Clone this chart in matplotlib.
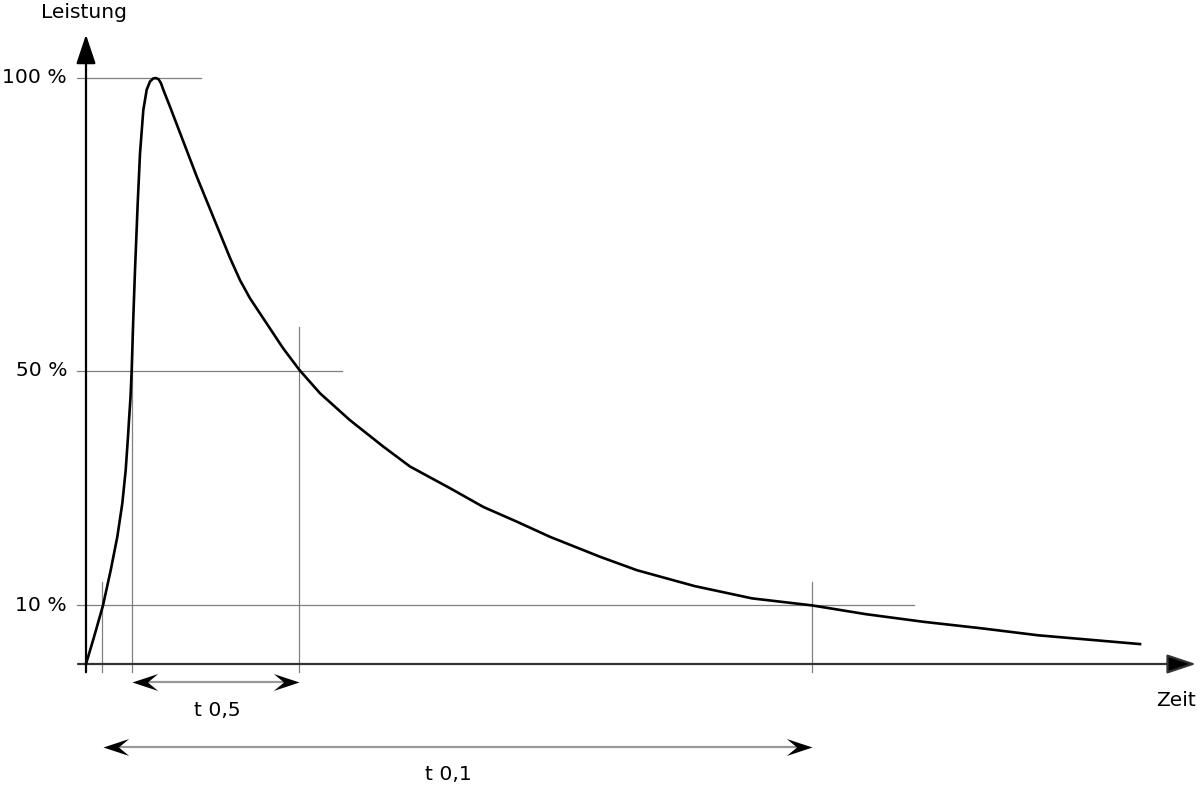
import numpy as np
import matplotlib
matplotlib.use("Agg")
import matplotlib.pyplot as plt
from matplotlib.path import Path

# Power curve (time in arbitrary units, power in %)
t = [0, 8, 17, 24.7, 31.3, 36.3, 39.7, 42, 43, 44.5, 45.7, 47.3, 49, 51.7, 54,
     57.3, 60.7, 64, 67, 69.7, 72.5, 75, 77.3, 84, 110.7, 144, 154, 164, 180.7,
     197, 213.3, 234, 264, 297.3, 324, 364, 397.3, 430.7, 464, 514, 551, 608.5,
     666, 726, 780, 837.5, 895, 952, 1054]
p = [0, 4.6, 10, 16.0, 21.7, 27.4, 33.1, 38.8, 41.6, 45.5, 50.2, 59, 67.2, 78.6,
     87.1, 94.5, 98, 99.4, 99.9, 100, 99.8, 99.1, 98, 95.1, 83.2, 69.3, 65.5,
     62.4, 58.1, 53.9, 50.2, 46.2, 41.6, 37.1, 33.7, 30.0, 26.8, 24.3, 21.7, 18.3,
     16.0, 13.3, 11.2, 10, 8.5, 7.2, 6.1, 4.9, 3.4]

levels = [100, 50, 10]
level_labels = ["100 %", "50 %", "10 %"]
level_ends = [115, 256, 828]

# vertical marker lines: time and top (%)
marks_t = [16, 46, 213, 726]
marks_top = [14, 57.5, 57.5, 14]

# duration arrows: start, end, height (%)
t05 = (46, 213, -3.0)
t01 = (17, 726, -14.2)

fig = plt.figure(figsize=(12, 7.86), dpi=100)
ax = fig.add_axes([0, 0, 1, 1])
ax.set_xlim(-86, 1114)
ax.set_ylim(-20.82, 113.31)
ax.axis("off")

fs = 14.6
grey = "#808080"

# guide lines
for lv, end in zip(levels, level_ends):
    ax.plot([-9, end], [lv, lv], color=grey, lw=0.9, zorder=1)
for mt, top in zip(marks_t, marks_top):
    ax.plot([mt, mt], [-1.4, top], color=grey, lw=0.9, zorder=1)

# axes with arrows
ax.annotate("", xy=(1110, 0), xytext=(-8, 0),
            arrowprops=dict(arrowstyle="-|>,head_length=18,head_width=6",
                            mutation_scale=1, lw=1.6, color="#333333",
                            fc="black", shrinkA=0, shrinkB=0), zorder=3)
ax.annotate("", xy=(0, 107.4), xytext=(0, -1.4),
            arrowprops=dict(arrowstyle="-|>,head_length=18,head_width=6",
                            mutation_scale=1, lw=1.6, color="black",
                            shrinkA=0, shrinkB=0), zorder=3)

# curve
ax.plot(t, p, color="black", lw=1.9, solid_joinstyle="round", zorder=4)

# stealth arrow heads
head_r = Path([(0, 0), (-1, 0.33), (-0.6, 0), (-1, -0.33), (0, 0)],
              [Path.MOVETO, Path.LINETO, Path.LINETO, Path.LINETO, Path.CLOSEPOLY])
head_l = Path([(0, 0), (1, 0.33), (0.6, 0), (1, -0.33), (0, 0)],
              [Path.MOVETO, Path.LINETO, Path.LINETO, Path.LINETO, Path.CLOSEPOLY])
for a0, a1, h in (t05, t01):
    ax.plot([a0 + 10, a1 - 10], [h, h], color="#999999", lw=1.6, zorder=2)
    ax.plot([a0], [h], marker=head_l, ms=37, color="black", mew=0, zorder=3)
    ax.plot([a1], [h], marker=head_r, ms=37, color="black", mew=0, zorder=3)

# texts
for lv, lab in zip(levels, level_labels):
    ax.text(-19, lv, lab, ha="right", va="center", fontsize=fs)
ax.text(-2, 110.2, "Leistung", ha="center", va="baseline", fontsize=fs)
ax.text(1090, -7.1, "Zeit", ha="center", va="baseline", fontsize=fs)
ax.text(131.5, -8.8, "t 0,5", ha="center", va="baseline", fontsize=fs)
ax.text(362, -19.8, "t 0,1", ha="center", va="baseline", fontsize=fs)

fig.savefig("out.png", dpi=100, facecolor="white")
